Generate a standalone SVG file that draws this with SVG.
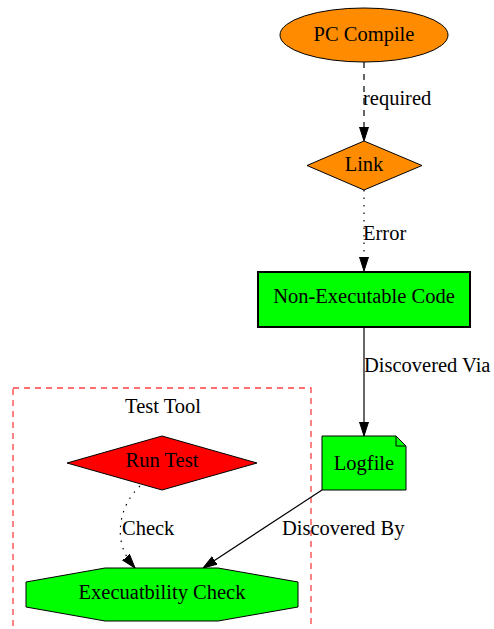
<svg xmlns="http://www.w3.org/2000/svg" width="494" height="629" viewBox="0 0 494 629">
<style>
text{font-family:"Liberation Serif","Times New Roman",serif;font-size:20.5px;fill:#000}
.c{text-anchor:middle}
.n{stroke:#000;stroke-width:1}
.e{fill:none;stroke:#000;stroke-width:1.2}
</style>
<defs>
<marker id="a" viewBox="0 0 14 10" refX="14" refY="5" markerWidth="14" markerHeight="10" markerUnits="userSpaceOnUse" orient="auto">
<path d="M0,0.5 L14,5 L0,9.5 Z" fill="#000" stroke="#000" stroke-width="1"/>
</marker>
</defs>
<rect width="494" height="629" fill="#fff"/>
<g id="cluster_test_tool">
<rect x="13" y="388" width="298" height="250" fill="none" stroke="#ff4040" stroke-width="1.3" stroke-dasharray="6,5"/>
<text class="c" x="163" y="413">Test Tool</text>
</g>
<g id="connectors">
<path class="e" d="M364,62 L364,141" stroke-dasharray="6,6" marker-end="url(#a)"/>
<text x="363" y="105">required</text>
<path class="e" d="M364,190 L364,271" stroke-dasharray="1.5,6" marker-end="url(#a)"/>
<text x="363" y="240">Error</text>
<path class="e" d="M364,327 L364,436" marker-end="url(#a)"/>
<text x="364" y="372">Discovered Via</text>
<path class="e" d="M322,490 L203,568" marker-end="url(#a)"/>
<text x="282" y="535">Discovered By</text>
<path class="e" d="M140,486 C120,505 118,530 122,545 C125,556 130,562 135,568" stroke-dasharray="1.5,6" marker-end="url(#a)"/>
<text x="122" y="535">Check</text>
</g>
<g id="pc_compile">
<ellipse class="n" cx="364" cy="35" rx="84" ry="27" fill="#ff8c00"/>
<text class="c" x="364" y="41">PC Compile</text>
</g>
<g id="link">
<polygon class="n" points="364,141 422,165.5 364,190 307,165.5" fill="#ff8c00"/>
<text class="c" x="364" y="171">Link</text>
</g>
<g id="non_executable_code">
<rect x="258" y="272" width="212" height="55" fill="#00ff00" stroke="#000" stroke-width="2"/>
<text class="c" x="364" y="303">Non-Executable Code</text>
</g>
<g id="logfile">
<polygon class="n" points="322,436 396,436 406,446 406,490 322,490" fill="#00ff00"/>
<polyline class="n" points="396,436 396,446 406,446" fill="none"/>
<text class="c" x="364" y="470">Logfile</text>
</g>
<g id="run_test">
<polygon class="n" points="162,436 257,463 162,490 67,463" fill="#ff0000"/>
<text class="c" x="162" y="467">Run Test</text>
</g>
<g id="executability_check">
<polygon class="n" points="105,568 218,568 298,582 298,607 218,621 105,621 26,607 26,582" fill="#00ff00"/>
<text class="c" x="162" y="599">Execuatbility Check</text>
</g>
</svg>
